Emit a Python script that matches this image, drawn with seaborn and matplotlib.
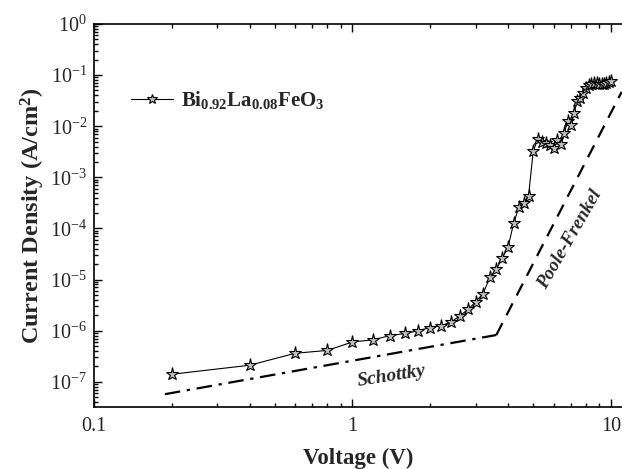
import numpy as np
import pandas as pd
import matplotlib
matplotlib.use("Agg")
import matplotlib.pyplot as plt
import matplotlib.ticker as mticker
import seaborn as sns

# ==============================
# Datos
# ==============================
voltage = [0.2, 0.4, 0.6, 0.8, 1.0, 1.2, 1.4, 1.6, 1.8, 2.0,
           2.2, 2.4, 2.6, 2.8, 3.0, 3.2, 3.4, 3.6, 3.8, 4.0,
           4.2, 4.4, 4.6, 4.8, 5.0, 5.2, 5.4, 5.6, 5.8, 6.0,
           6.2, 6.4, 6.6, 6.8, 7.0, 7.2, 7.4, 7.6, 7.8, 8.0,
           8.2, 8.4, 8.6, 8.8, 9.0, 9.2, 9.4, 9.6, 9.8, 10.0]
current = [1.4e-7, 2.1e-7, 3.6e-7, 4.1e-7, 6.0e-7, 6.6e-7, 8.0e-7, 8.8e-7, 1.0e-6, 1.15e-6,
           1.25e-6, 1.45e-6, 1.95e-6, 2.6e-6, 3.7e-6, 5.3e-6, 1.1e-5, 1.6e-5, 2.6e-5, 4.4e-5,
           1.25e-4, 2.6e-4, 3.1e-4, 4.4e-4, 3.2e-3, 5.6e-3, 5.0e-3, 4.6e-3, 4.3e-3, 3.8e-3,
           5.4e-3, 4.4e-3, 7.4e-3, 1.25e-2, 1.05e-2, 1.8e-2, 3.1e-2, 3.6e-2, 4.4e-2, 5.5e-2,
           6.4e-2, 6.8e-2, 6.9e-2, 6.9e-2, 6.8e-2, 6.7e-2, 6.8e-2, 7.1e-2, 7.3e-2, 7.8e-2]

schottky_v = [0.188, 3.6]
schottky_j = [5.7e-8, 8.2e-7]
poole_v = [3.6, 11.0]
poole_j = [8.2e-7, 4.7e-2]

y_ticks = [1e-7, 1e-6, 1e-5, 1e-4, 1e-3, 1e-2, 1e-1, 1e0]
x_ticks = [0.1, 1, 10]
x_labels = ["0.1", "1", "10"]

df = pd.DataFrame({"V": voltage, "J": current})

# ==============================
# Estilo
# ==============================
sns.set_style("ticks")
plt.rcParams["font.family"] = ["Liberation Serif", "DejaVu Serif"]
plt.rcParams["mathtext.fontset"] = "custom"
plt.rcParams["mathtext.rm"] = "Liberation Serif"
plt.rcParams["mathtext.it"] = "Liberation Serif:italic"
plt.rcParams["mathtext.bf"] = "Liberation Serif:bold"

fig = plt.figure(figsize=(6.22, 4.69), dpi=100)
ax = fig.add_axes([94 / 622, 62 / 469, 528 / 622, 383 / 469])
ax.set_xscale("log")
ax.set_yscale("log")

sns.lineplot(data=df, x="V", y="J", ax=ax, color="black", linewidth=0.8,
             marker="*", markersize=9.5, markerfacecolor="#bdbdbd",
             markeredgecolor="black", markeredgewidth=0.8,
             estimator=None, sort=False, label=r"$\mathbf{Bi_{0.92}La_{0.08}FeO_{3}}$")
sns.lineplot(x=schottky_v, y=schottky_j, ax=ax, color="black", linewidth=1.6,
             linestyle=(0, (7, 3, 1.5, 3)), estimator=None, sort=False, legend=False)
sns.lineplot(x=poole_v, y=poole_j, ax=ax, color="black", linewidth=1.6,
             linestyle=(0, (6, 4)), estimator=None, sort=False, legend=False)

ax.set_xlim(0.1, 11.03)
ax.set_ylim(3.2e-8, 1)

ax.xaxis.set_major_locator(mticker.FixedLocator(x_ticks))
ax.xaxis.set_major_formatter(mticker.FixedFormatter(x_labels))
ax.xaxis.set_minor_formatter(mticker.NullFormatter())
ax.yaxis.set_major_locator(mticker.FixedLocator(y_ticks))
ax.yaxis.set_major_formatter(mticker.LogFormatterMathtext())
ax.yaxis.set_minor_locator(mticker.LogLocator(base=10, subs=np.arange(2, 10), numticks=20))
ax.yaxis.set_minor_formatter(mticker.NullFormatter())

ax.tick_params(which="both", direction="in", top=True, right=False, labelsize=14.5, width=1, color="black")
ax.tick_params(which="major", length=6)
ax.tick_params(which="minor", length=3)
ax.tick_params(axis="x", pad=7)
ax.tick_params(axis="y", pad=5)
ax.spines["right"].set_visible(False)
for s in ["left", "bottom", "top"]:
    ax.spines[s].set_linewidth(1.2)
    ax.spines[s].set_color("black")

ax.set_xlabel("Voltage (V)", fontsize=16.5, fontweight="bold", labelpad=9)
ax.set_ylabel(r"Current Density (A/cm$^{\mathbf{2}}$)", fontsize=17.5, fontweight="bold", labelpad=2)

ax.text(1.42, 1.3e-7, "Schottky", fontsize=14, fontweight="bold", fontstyle="italic",
        rotation=9, ha="center", va="center")
ax.text(6.95, 6.2e-5, "Poole-Frenkel", fontsize=13.5, fontweight="bold", fontstyle="italic",
        rotation=60, ha="center", va="center")

leg = ax.legend(loc="upper left", bbox_to_anchor=(0.035, 0.878), frameon=False,
                fontsize=15, handlelength=2.0, handletextpad=0.4, markerscale=0.75)

plt.savefig("out.png", dpi=100)
plt.close()
